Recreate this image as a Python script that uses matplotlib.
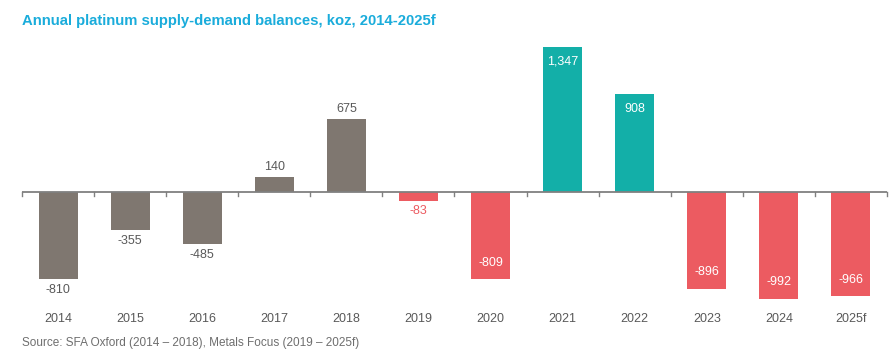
import matplotlib
matplotlib.use("Agg")
import matplotlib.pyplot as plt
from matplotlib.transforms import blended_transform_factory

plt.rcParams['font.family'] = ['Liberation Sans', 'DejaVu Sans']

years = ["2014", "2015", "2016", "2017", "2018", "2019", "2020", "2021", "2022", "2023", "2024", "2025f"]
values = [-810, -355, -485, 140, 675, -83, -809, 1347, 908, -896, -992, -966]
labels = ["-810", "-355", "-485", "140", "675", "-83", "-809", "1,347", "908", "-896", "-992", "-966"]

GREY = "#7F7770"
TEAL = "#13AFA8"
RED = "#EC5B61"
TXT = "#595959"

def bar_color(i, v):
    if i <= 4:
        return GREY
    return TEAL if v > 0 else RED

W, H = 893, 358
fig = plt.figure(figsize=(W / 100, H / 100), dpi=100)
ax = fig.add_axes([22 / W, 1 - 301 / H, (887 - 22) / W, 260 / H])

x = list(range(len(years)))
colors = [bar_color(i, v) for i, v in enumerate(values)]
ax.bar(x, values, width=0.54, color=colors, zorder=2)
ax.set_xlim(-0.5, len(years) - 0.5)
ax.set_ylim(-1010, 1400)
ax.axis("off")

# zero line and ticks
ax.axhline(0, color="#808080", lw=1.3, zorder=3)
for b in [i - 0.5 for i in range(len(years) + 1)]:
    ax.plot([b, b], [0, -40], color="#808080", lw=1.0, zorder=3, clip_on=False)

# value labels
for i, (v, lab) in enumerate(zip(values, labels)):
    if i <= 5:
        col = RED if i == 5 else TXT
        off = 7.5 if v > 0 else -7.5
        ax.annotate(lab, (i, v), xytext=(0, off), textcoords="offset points",
                    ha="center", va="center", fontsize=9, color=col)
    else:
        off = -10.5 if v > 0 else 12
        ax.annotate(lab, (i, v), xytext=(0, off), textcoords="offset points",
                    ha="center", va="center", fontsize=9, color="white")

# category labels
tr = blended_transform_factory(ax.transData, fig.transFigure)
for i, y in enumerate(years):
    ax.text(i, 1 - 319 / H, y, transform=tr, ha="center", va="center", fontsize=9, color=TXT)

fig.text(22 / W, 1 - 21 / H, "Annual platinum supply-demand balances, koz, 2014-2025f",
         ha="left", va="center", fontsize=10.7, fontweight="bold", color="#1AACDB")
fig.text(22 / W, 1 - 343 / H, "Source: SFA Oxford (2014 \u2013 2018), Metals Focus (2019 \u2013 2025f)",
         ha="left", va="center", fontsize=8.5, color="#6E6E6E")

fig.savefig("out.png", dpi=100)
